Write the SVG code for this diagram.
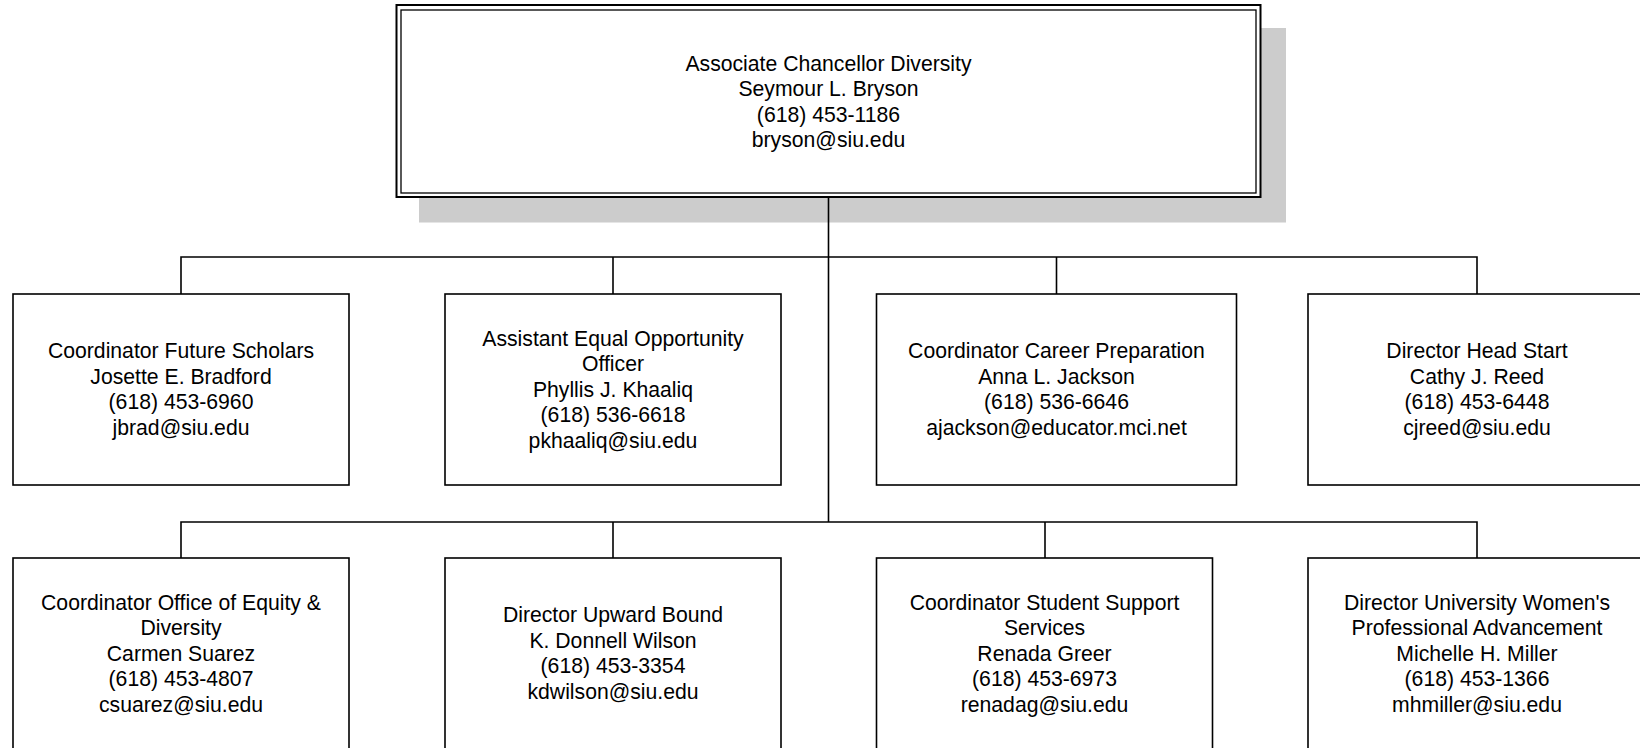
<svg xmlns="http://www.w3.org/2000/svg" width="1640" height="748" viewBox="0 0 1640 748">
<style>
.box{fill:#ffffff;stroke:#000000;stroke-width:1.6}
.ln{fill:none;stroke:#000000;stroke-width:1.6}
text{font-family:"Liberation Sans",Arial,sans-serif;font-size:21.2px;fill:#000000;text-anchor:middle}
</style>
<rect width="1640" height="748" fill="#ffffff"/>
<g id="top">
<rect x="419" y="28" width="867" height="194.5" fill="#cccccc"/>
<rect x="396.5" y="5" width="864" height="192" fill="#ffffff" stroke="#000000" stroke-width="2"/>
<rect x="401" y="10" width="855" height="183" fill="none" stroke="#000000" stroke-width="1.3"/>
<text x="828.5" y="70.5">Associate Chancellor Diversity</text>
<text x="828.5" y="96">Seymour L. Bryson</text>
<text x="828.5" y="121.5">(618) 453-1186</text>
<text x="828.5" y="147">bryson@siu.edu</text>
</g>
<g id="connectors">
<line class="ln" x1="828.5" y1="197" x2="828.5" y2="522"/>
<polyline class="ln" points="181,294 181,257 1477,257 1477,294"/>
<line class="ln" x1="613" y1="257" x2="613" y2="294"/>
<line class="ln" x1="1056.5" y1="257" x2="1056.5" y2="294"/>
<polyline class="ln" points="181,558 181,522 1477,522 1477,558"/>
<line class="ln" x1="613" y1="522" x2="613" y2="558"/>
<line class="ln" x1="1045" y1="522" x2="1045" y2="558"/>
</g>
<g id="n1">
<rect class="box" x="13" y="294" width="336" height="191"/>
<text x="181" y="358.3">Coordinator Future Scholars</text>
<text x="181" y="383.8">Josette E. Bradford</text>
<text x="181" y="409.3">(618) 453-6960</text>
<text x="181" y="434.8">jbrad@siu.edu</text>
</g>
<g id="n2">
<rect class="box" x="445" y="294" width="336" height="191"/>
<text x="613" y="345.5">Assistant Equal Opportunity</text>
<text x="613" y="371">Officer</text>
<text x="613" y="396.5">Phyllis J. Khaaliq</text>
<text x="613" y="422">(618) 536-6618</text>
<text x="613" y="447.5">pkhaaliq@siu.edu</text>
</g>
<g id="n3">
<rect class="box" x="876.5" y="294" width="360" height="191"/>
<text x="1056.5" y="358.3">Coordinator Career Preparation</text>
<text x="1056.5" y="383.8">Anna L. Jackson</text>
<text x="1056.5" y="409.3">(618) 536-6646</text>
<text x="1056.5" y="434.8">ajackson@educator.mci.net</text>
</g>
<g id="n4">
<rect class="box" x="1308" y="294" width="338" height="191"/>
<text x="1477" y="358.3">Director Head Start</text>
<text x="1477" y="383.8">Cathy J. Reed</text>
<text x="1477" y="409.3">(618) 453-6448</text>
<text x="1477" y="434.8">cjreed@siu.edu</text>
</g>
<g id="n5">
<rect class="box" x="13" y="558" width="336" height="191"/>
<text x="181" y="609.5">Coordinator Office of Equity &amp;</text>
<text x="181" y="635">Diversity</text>
<text x="181" y="660.5">Carmen Suarez</text>
<text x="181" y="686">(618) 453-4807</text>
<text x="181" y="711.5">csuarez@siu.edu</text>
</g>
<g id="n6">
<rect class="box" x="445" y="558" width="336" height="191"/>
<text x="613" y="622.3">Director Upward Bound</text>
<text x="613" y="647.8">K. Donnell Wilson</text>
<text x="613" y="673.3">(618) 453-3354</text>
<text x="613" y="698.8">kdwilson@siu.edu</text>
</g>
<g id="n7">
<rect class="box" x="876.5" y="558" width="336" height="191"/>
<text x="1044.5" y="609.5">Coordinator Student Support</text>
<text x="1044.5" y="635">Services</text>
<text x="1044.5" y="660.5">Renada Greer</text>
<text x="1044.5" y="686">(618) 453-6973</text>
<text x="1044.5" y="711.5">renadag@siu.edu</text>
</g>
<g id="n8">
<rect class="box" x="1308" y="558" width="338" height="191"/>
<text x="1477" y="609.5">Director University Women's</text>
<text x="1477" y="635">Professional Advancement</text>
<text x="1477" y="660.5">Michelle H. Miller</text>
<text x="1477" y="686">(618) 453-1366</text>
<text x="1477" y="711.5">mhmiller@siu.edu</text>
</g>
</svg>
